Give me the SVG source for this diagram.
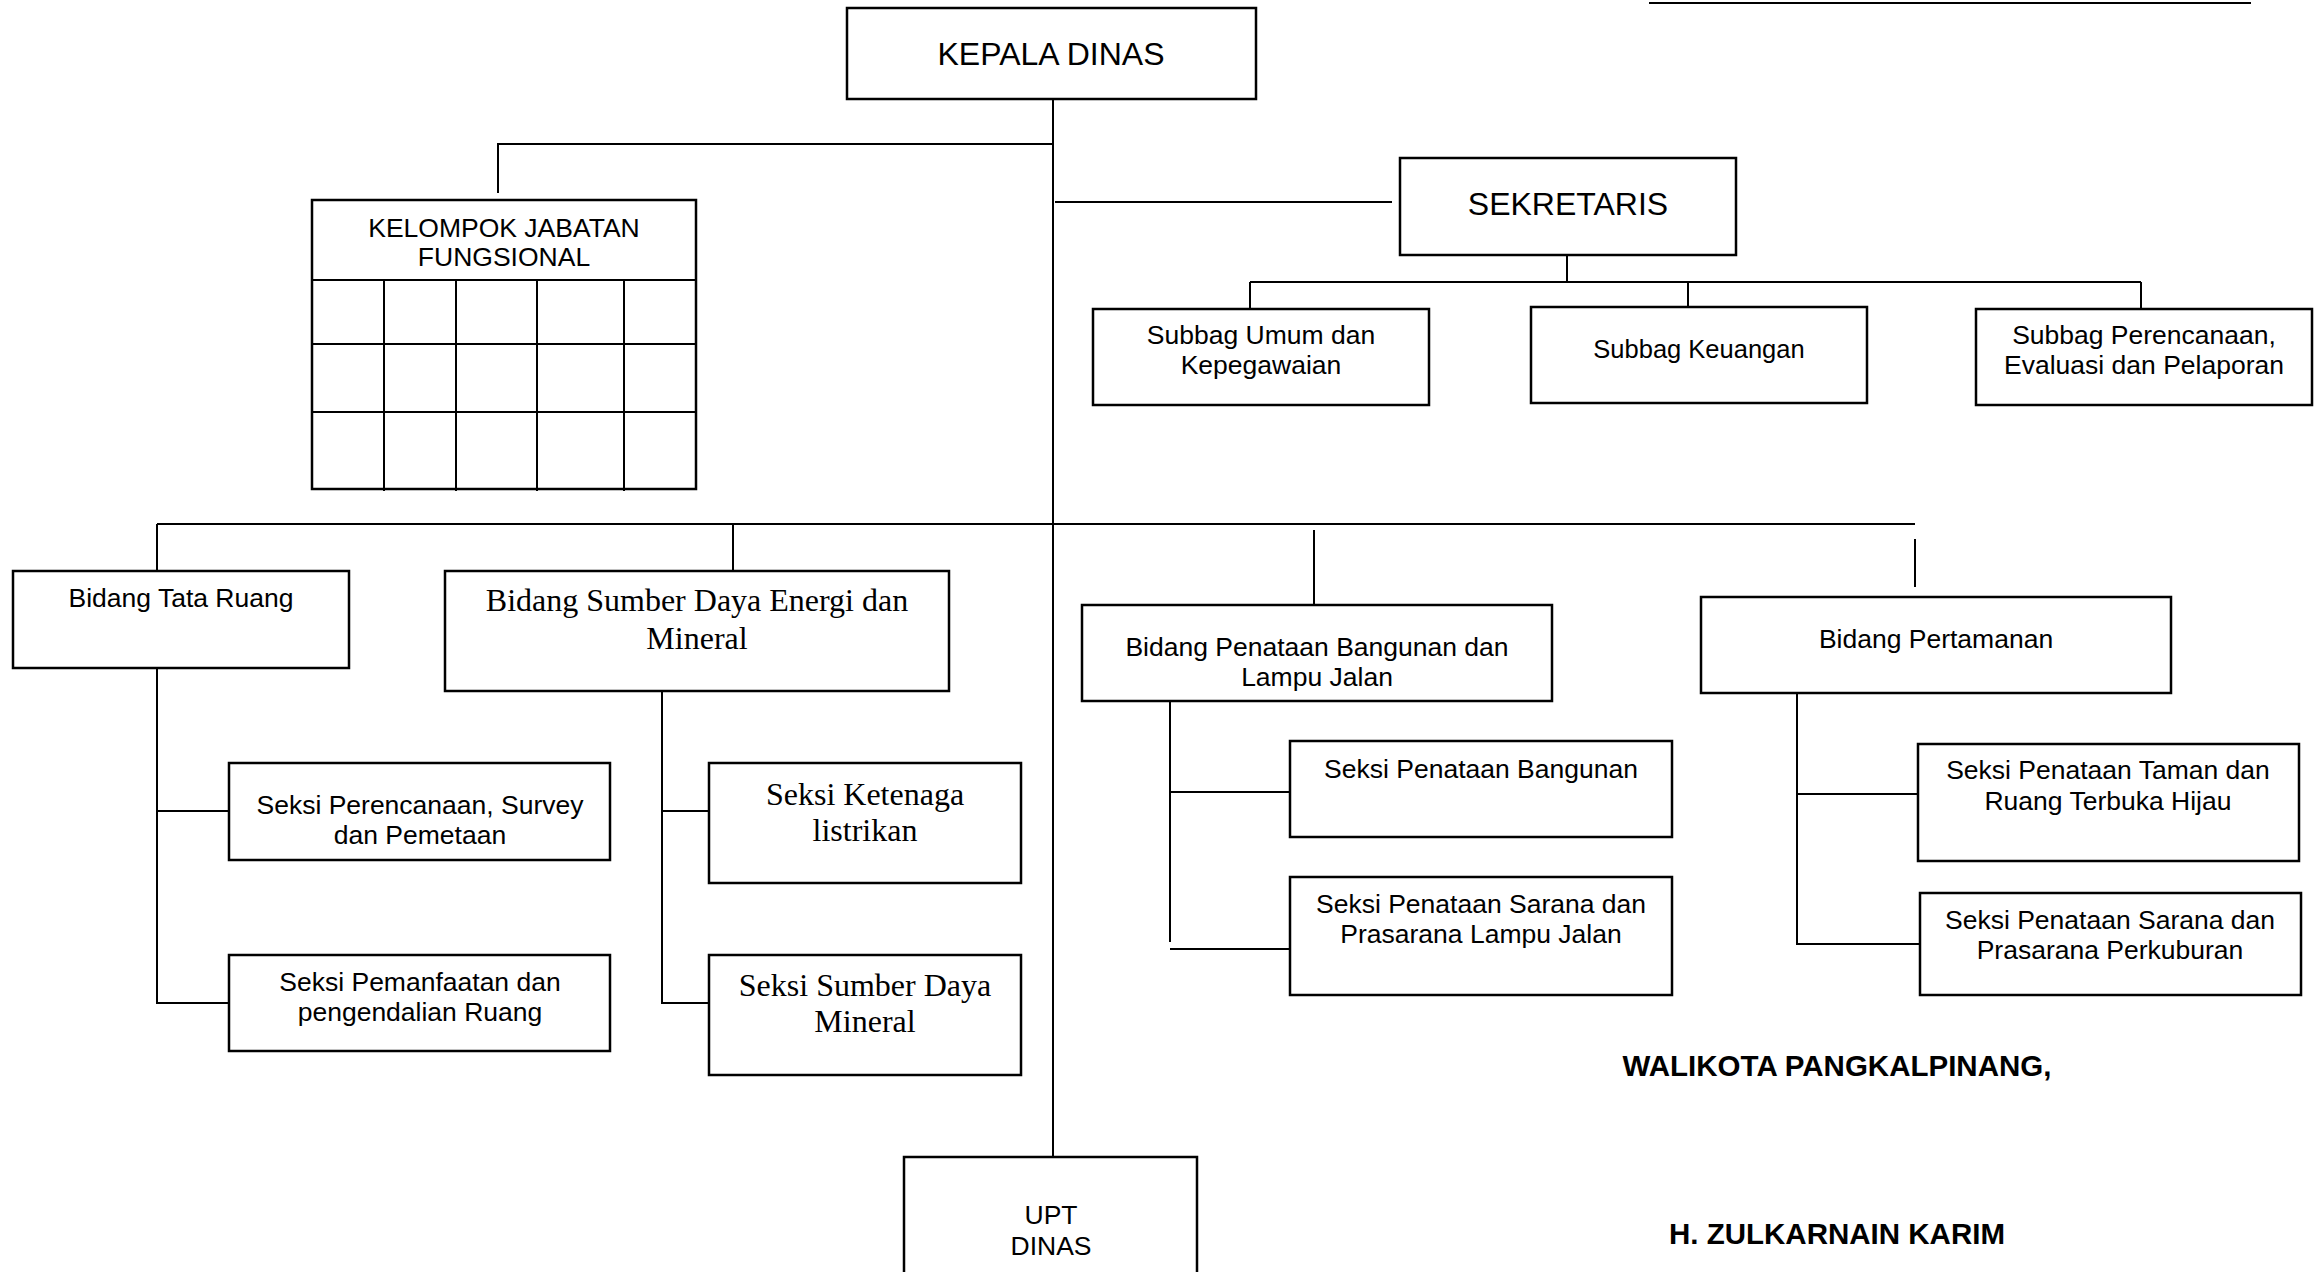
<svg xmlns="http://www.w3.org/2000/svg" width="2322" height="1272" viewBox="0 0 2322 1272">
<style>
.box{fill:#fff;stroke:#000;stroke-width:2.5}
.ln{fill:none;stroke:#000;stroke-width:2}
.sans{font-family:"Liberation Sans",Arial,sans-serif;font-size:26.5px;fill:#000;text-anchor:middle}
.big{font-family:"Liberation Sans",Arial,sans-serif;font-size:32px;fill:#000;text-anchor:middle}
.serif{font-family:"Liberation Serif","Times New Roman",serif;font-size:32px;fill:#000;text-anchor:middle}
.bold{font-family:"Liberation Sans",Arial,sans-serif;font-size:29.5px;font-weight:bold;fill:#000;text-anchor:middle}
</style>
<rect width="2322" height="1272" fill="#fff"/>
<g id="connectors">
<line class="ln" x1="1649" y1="3" x2="2251" y2="3"/>
<line class="ln" x1="1053" y1="99" x2="1053" y2="1157"/>
<polyline class="ln" points="1053,144 498,144 498,193"/>
<line class="ln" x1="1055" y1="202" x2="1392" y2="202"/>
<line class="ln" x1="1567" y1="255" x2="1567" y2="282"/>
<line class="ln" x1="1250" y1="282" x2="2141" y2="282"/>
<line class="ln" x1="1250" y1="282" x2="1250" y2="308"/>
<line class="ln" x1="1688" y1="282" x2="1688" y2="306"/>
<line class="ln" x1="2141" y1="282" x2="2141" y2="308"/>
<line class="ln" x1="157" y1="524" x2="1915" y2="524"/>
<line class="ln" x1="157" y1="524" x2="157" y2="571"/>
<line class="ln" x1="733" y1="524" x2="733" y2="571"/>
<line class="ln" x1="1314" y1="530" x2="1314" y2="604"/>
<line class="ln" x1="1915" y1="539" x2="1915" y2="587"/>
<polyline class="ln" points="157,668 157,1003 229,1003"/>
<line class="ln" x1="157" y1="811" x2="229" y2="811"/>
<polyline class="ln" points="662,691 662,1003 709,1003"/>
<line class="ln" x1="662" y1="811" x2="709" y2="811"/>
<line class="ln" x1="1170" y1="701" x2="1170" y2="942"/>
<line class="ln" x1="1170" y1="792" x2="1290" y2="792"/>
<line class="ln" x1="1170" y1="949" x2="1290" y2="949"/>
<polyline class="ln" points="1797,693 1797,944 1919,944"/>
<line class="ln" x1="1797" y1="794" x2="1918" y2="794"/>
</g>
<g id="kepala-dinas">
<rect class="box" x="847" y="8" width="409" height="91"/>
<text class="big" x="1051" y="65">KEPALA DINAS</text>
</g>
<g id="kelompok-jabatan-fungsional">
<rect class="box" x="312" y="200" width="384" height="289"/>
<line class="ln" x1="312" y1="280" x2="696" y2="280"/>
<line class="ln" x1="312" y1="344" x2="696" y2="344"/>
<line class="ln" x1="312" y1="412" x2="696" y2="412"/>
<line class="ln" x1="384" y1="280" x2="384" y2="491"/>
<line class="ln" x1="456" y1="280" x2="456" y2="491"/>
<line class="ln" x1="537" y1="280" x2="537" y2="491"/>
<line class="ln" x1="624" y1="280" x2="624" y2="491"/>
<text class="sans" x="504" y="237">KELOMPOK JABATAN</text>
<text class="sans" x="504" y="266">FUNGSIONAL</text>
</g>
<g id="sekretaris">
<rect class="box" x="1400" y="158" width="336" height="97"/>
<text class="big" x="1568" y="215">SEKRETARIS</text>
</g>
<g id="subbag-umum">
<rect class="box" x="1093" y="309" width="336" height="96"/>
<text class="sans" x="1261" y="344">Subbag Umum dan</text>
<text class="sans" x="1261" y="374">Kepegawaian</text>
</g>
<g id="subbag-keuangan">
<rect class="box" x="1531" y="307" width="336" height="96"/>
<text class="sans" x="1699" y="358" style="font-size:25.5px">Subbag Keuangan</text>
</g>
<g id="subbag-perencanaan">
<rect class="box" x="1976" y="309" width="336" height="96"/>
<text class="sans" x="2144" y="344">Subbag Perencanaan,</text>
<text class="sans" x="2144" y="374">Evaluasi dan Pelaporan</text>
</g>
<g id="bidang-tata-ruang">
<rect class="box" x="13" y="571" width="336" height="97"/>
<text class="sans" x="181" y="607">Bidang Tata Ruang</text>
</g>
<g id="bidang-sumber-daya">
<rect class="box" x="445" y="571" width="504" height="120"/>
<text class="serif" x="697" y="611">Bidang Sumber Daya Energi dan</text>
<text class="serif" x="697" y="649">Mineral</text>
</g>
<g id="bidang-penataan-bangunan">
<rect class="box" x="1082" y="605" width="470" height="96"/>
<text class="sans" x="1317" y="656">Bidang Penataan Bangunan dan</text>
<text class="sans" x="1317" y="686">Lampu Jalan</text>
</g>
<g id="bidang-pertamanan">
<rect class="box" x="1701" y="597" width="470" height="96"/>
<text class="sans" x="1936" y="648">Bidang Pertamanan</text>
</g>
<g id="seksi-perencanaan">
<rect class="box" x="229" y="763" width="381" height="97"/>
<text class="sans" x="420" y="814">Seksi Perencanaan, Survey</text>
<text class="sans" x="420" y="844">dan Pemetaan</text>
</g>
<g id="seksi-pemanfaatan">
<rect class="box" x="229" y="955" width="381" height="96"/>
<text class="sans" x="420" y="991">Seksi Pemanfaatan dan</text>
<text class="sans" x="420" y="1021">pengendalian Ruang</text>
</g>
<g id="seksi-ketenaga">
<rect class="box" x="709" y="763" width="312" height="120"/>
<text class="serif" x="865" y="805">Seksi Ketenaga</text>
<text class="serif" x="865" y="841">listrikan</text>
</g>
<g id="seksi-sumber-daya-mineral">
<rect class="box" x="709" y="955" width="312" height="120"/>
<text class="serif" x="865" y="996">Seksi Sumber Daya</text>
<text class="serif" x="865" y="1032">Mineral</text>
</g>
<g id="seksi-penataan-bangunan">
<rect class="box" x="1290" y="741" width="382" height="96"/>
<text class="sans" x="1481" y="778">Seksi Penataan Bangunan</text>
</g>
<g id="seksi-sarana-lampu">
<rect class="box" x="1290" y="877" width="382" height="118"/>
<text class="sans" x="1481" y="913">Seksi Penataan Sarana dan</text>
<text class="sans" x="1481" y="943">Prasarana Lampu Jalan</text>
</g>
<g id="seksi-taman">
<rect class="box" x="1918" y="744" width="381" height="117"/>
<text class="sans" x="2108" y="779">Seksi Penataan Taman dan</text>
<text class="sans" x="2108" y="810">Ruang Terbuka Hijau</text>
</g>
<g id="seksi-perkuburan">
<rect class="box" x="1920" y="893" width="381" height="102"/>
<text class="sans" x="2110" y="929">Seksi Penataan Sarana dan</text>
<text class="sans" x="2110" y="959">Prasarana Perkuburan</text>
</g>
<g id="upt-dinas">
<rect class="box" x="904" y="1157" width="293" height="130"/>
<text class="sans" x="1051" y="1224">UPT</text>
<text class="sans" x="1051" y="1255">DINAS</text>
</g>
<g id="signature">
<text class="bold" x="1837" y="1076">WALIKOTA PANGKALPINANG,</text>
<text class="bold" x="1837" y="1244">H. ZULKARNAIN KARIM</text>
</g>
</svg>
